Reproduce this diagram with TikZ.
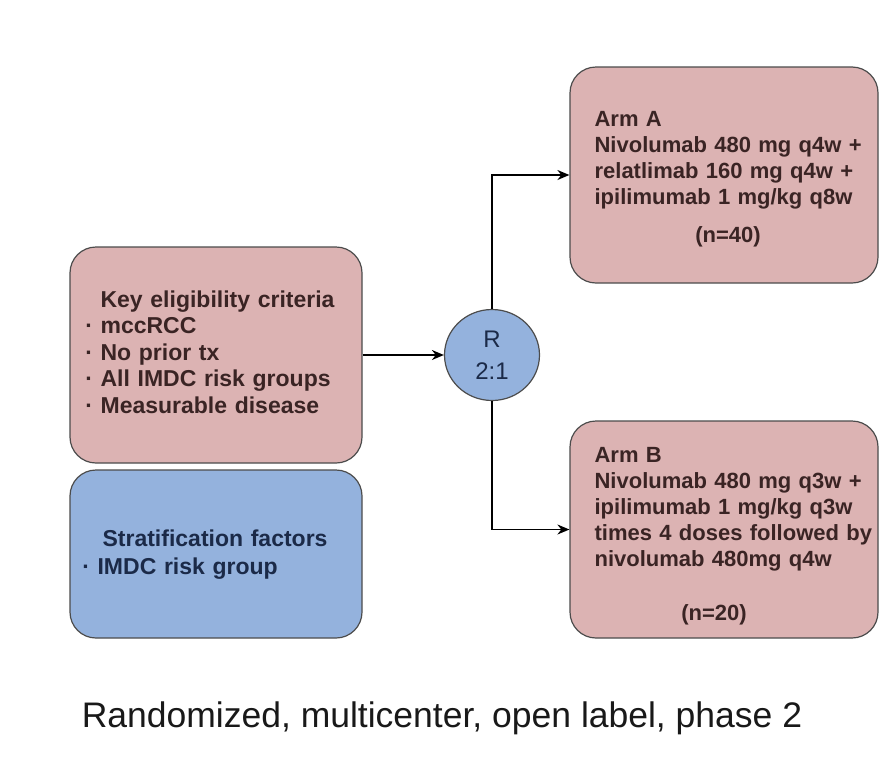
\documentclass[tikz,border=0pt]{standalone}
\usepackage{fontspec}
\setsansfont{Liberation Sans}
\usetikzlibrary{arrows.meta,positioning,calc,shapes.geometric}
\definecolor{armpink}{HTML}{DCB3B3}
\definecolor{stratblue}{HTML}{94B2DD}
\definecolor{pinktext}{HTML}{3A2424}
\definecolor{bluetext}{HTML}{1B2A48}
\newcommand{\itemdot}[1][\ ]{\leavevmode\llap{·#1}}
\tikzset{
  panel/.style={draw=black!70, line width=1.2pt, rounded corners=26pt, inner sep=0pt},
  pinkpanel/.style={panel, fill=armpink},
  bluepanel/.style={panel, fill=stratblue},
  lefttext/.style={align=left, inner sep=0pt, text width=258pt, font=\sffamily\bfseries\fontsize{23}{26.5}\selectfont},
  armtext/.style={align=left, inner sep=0pt, text width=283pt, text=pinktext, font=\sffamily\bfseries\fontsize{22}{26}\selectfont},
  arrow/.style={-{Stealth[length=12pt,width=10pt]}, line width=1.6pt}
}

\begin{document}
\begin{tikzpicture}[x=1pt, y=-1pt]
\useasboundingbox (0,0) rectangle (896,766);
% boxes
\node[pinkpanel, minimum width=292pt, minimum height=216pt] (crit) at (216,355) {};
\node[bluepanel, minimum width=292pt, minimum height=168pt] (strat) at (216,554) {};
\node[pinkpanel, minimum width=308pt, minimum height=216pt] (armA) at (724,175) {};
\node[pinkpanel, minimum width=308pt, minimum height=217pt] (armB) at (724,529.5) {};
\node[ellipse, draw=black!70, line width=1.2pt, fill=stratblue, minimum width=95pt, minimum height=91pt,
  inner sep=0pt, align=center, text=bluetext, font=\sffamily\fontsize{24}{32}\selectfont] (rnd) at (492,355) {R\\2:1};
% texts
\node[lefttext, text=pinktext, anchor=base west] (crittxt) at ($(crit.north west)+(31,61)$)
  {Key eligibility criteria\\
   \itemdot mccRCC\\
   \itemdot No prior tx\\
   \itemdot All IMDC risk groups\\
   \itemdot Measurable disease};
\node[lefttext, text=bluetext, anchor=base west] (strattxt) at ($(strat.north west)+(28,77)$)
  {\hspace*{5pt}Stratification factors\\[1.5pt]
   \itemdot IMDC risk group};
\node[armtext, anchor=base west] (armAtxt) at ($(armA.north west)+(25,60)$)
  {Arm A\\
   Nivolumab 480 mg q4w +\\
   relatlimab 160 mg q4w +\\
   ipilimumab 1 mg/kg q8w};
\node[armtext, text width=, align=center, anchor=base] (armAn) at (728,242) {(n=40)};
\node[armtext, anchor=base west] (armBtxt) at ($(armB.north west)+(25,42)$)
  {Arm B\\
   Nivolumab 480 mg q3w +\\
   ipilimumab 1 mg/kg q3w\\
   times 4 doses followed by\\
   nivolumab 480mg q4w};
\node[armtext, text width=, align=center, anchor=base] (armBn) at (714,620) {(n=20)};
\node[anchor=base, inner sep=0pt, text=black!90, font=\sffamily\fontsize{35.5}{40}\selectfont] (caption) at (442,727)
  {Randomized, multicenter, open label, phase 2};
% connectors
\draw[arrow] (crit) -- (rnd);
\draw[arrow] (rnd.north) |- (armA.west);
\draw[arrow] (rnd.south) |- (armB.west);
\end{tikzpicture}
\end{document}
